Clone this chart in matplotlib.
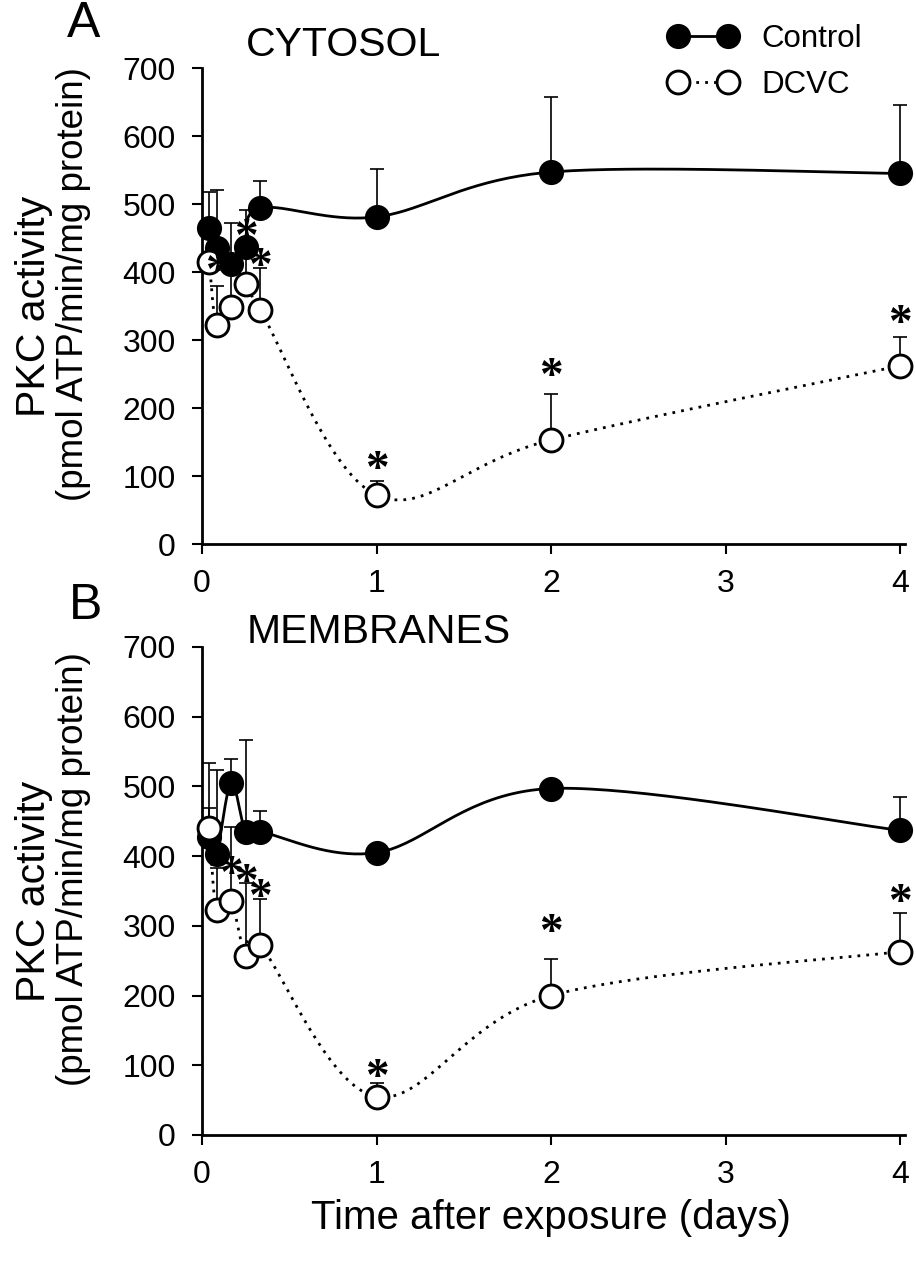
import numpy as np
import matplotlib
matplotlib.use("Agg")
import matplotlib.pyplot as plt
from matplotlib.lines import Line2D

plt.rcParams['font.family'] = ['Liberation Sans', 'DejaVu Sans']

# ---------------- data ----------------
times = [1/24, 2/24, 4/24, 6/24, 8/24, 1, 2, 4]
xticks = [0, 1, 2, 3, 4]
yticks = [0, 100, 200, 300, 400, 500, 600, 700]

# Panel A - cytosol
cyt_control = [465, 435, 412, 437, 494, 481, 547, 545]
cyt_control_err = [52, 85, 60, 54, 40, 71, 110, 100]
cyt_dcvc = [415, 322, 349, 383, 344, 72, 153, 262]
cyt_dcvc_err = [35, 58, 60, 47, 62, 20, 67, 42]
cyt_star_x = [2/24, 6/24, 8/24, 1, 2, 4]
cyt_star_y = [415, 465, 422, 124, 260, 339]

# Panel B - membranes
mem_control = [428, 403, 505, 435, 435, 405, 497, 437]
mem_control_err = [41, 120, 34, 131, 30, 8, 6, 48]
mem_dcvc = [441, 323, 335, 257, 272, 55, 200, 263]
mem_dcvc_err = [93, 60, 107, 105, 67, 19, 53, 55]
mem_star_x = [4/24, 6/24, 8/24, 1, 2, 4]
mem_star_y = [387, 376, 354, 96, 304, 347]


def smooth(x, y, n=40):
    P = np.column_stack([x, y]).astype(float)
    out = []
    m = len(P)
    t = np.linspace(0, 1, n)[:, None]
    for i in range(m - 1):
        p0 = P[i - 1] if i > 0 else P[i]
        p1 = P[i]
        p2 = P[i + 1]
        p3 = P[i + 2] if i + 2 < m else P[i + 1]
        b1 = p1 + (p2 - p0) / 6.0
        b2 = p2 - (p3 - p1) / 6.0
        seg = ((1 - t) ** 3) * p1 + 3 * ((1 - t) ** 2) * t * b1 + 3 * (1 - t) * t ** 2 * b2 + t ** 3 * p2
        out.append(seg if i == 0 else seg[1:])
    s = np.vstack(out)
    return s[:, 0], s[:, 1]


W, H = 916, 1266
fig = plt.figure(figsize=(W / 100, H / 100), dpi=100)

xmax = 4.03
pxu = 174.5


def make_ax(y0, y700):
    left = 202 / W
    width = xmax * pxu / W
    bottom = 1 - y0 / H
    height = (y0 - y700) / H
    return fig.add_axes([left, bottom, width, height])


axA = make_ax(544, 68)
axB = make_ax(1135, 647)

MS = 16.5
MEW = 1.6


def draw(ax, ctrl, ctrl_err, dcvc, dcvc_err, star_x, star_y, title, title_y):
    # error bars (upward only)
    for vals, errs in [(ctrl, ctrl_err), (dcvc, dcvc_err)]:
        eb = ax.errorbar(times, vals, yerr=[np.zeros(len(vals)), errs], fmt='none',
                         ecolor='black', elinewidth=1.2, capsize=5, capthick=1.2, zorder=2)
        for art in eb.get_children():
            art.set_clip_on(False)
    sx, sy = smooth(times, ctrl)
    ax.plot(sx, sy, color='black', lw=2.0, zorder=3, clip_on=False)
    ax.plot(times, ctrl, ls='none', marker='o', ms=MS, mfc='black', mec='black',
            mew=MEW, zorder=4, clip_on=False)
    sx, sy = smooth(times, dcvc)
    ax.plot(sx, sy, color='black', lw=2.0, ls=(0, (1, 2.2)), zorder=5, clip_on=False)
    ax.plot(times, dcvc, ls='none', marker='o', ms=MS, mfc='white', mec='black',
            mew=MEW * 1.3, zorder=6, clip_on=False)
    for x, y in zip(star_x, star_y):
        ax.annotate('*', xy=(x, y), xytext=(0, -8), textcoords='offset points',
                    ha='center', va='center', fontsize=34,
                    family='Liberation Serif', fontweight='bold', zorder=7)
    ax.set_xlim(0, xmax)
    ax.set_ylim(0, 700)
    ax.set_xticks(xticks)
    ax.set_yticks(yticks)
    ax.tick_params(axis='both', direction='out', length=7, width=1.5,
                   labelsize=23, colors='black')
    ax.tick_params(axis='y', pad=12)
    ax.tick_params(axis='x', pad=11)
    for s in ['top', 'right']:
        ax.spines[s].set_visible(False)
    for s in ['left', 'bottom']:
        ax.spines[s].set_linewidth(2.0)
    ax.text(0.063, title_y, title, transform=ax.transAxes, fontsize=29.5,
            ha='left', va='center')


draw(axA, cyt_control, cyt_control_err, cyt_dcvc, cyt_dcvc_err, cyt_star_x, cyt_star_y,
     'CYTOSOL', (544 - 45) / 476)
draw(axB, mem_control, mem_control_err, mem_dcvc, mem_dcvc_err, mem_star_x, mem_star_y,
     'MEMBRANES', (1135 - 632) / 488)

# y labels
for yc in [(544 + 68) / 2, (1135 + 647) / 2]:
    fig.text(34 / W, 1 - yc / H, 'PKC activity', rotation=90, fontsize=29.5,
             ha='center', va='center')
    fig.text(74 / W, 1 - (yc - 22) / H, '(pmol ATP/min/mg protein)', rotation=90,
             fontsize=26.5, ha='center', va='center')

fig.text(84 / W, 1 - 24 / H, 'A', fontsize=36, ha='center', va='center')
fig.text(86 / W, 1 - 606 / H, 'B', fontsize=36, ha='center', va='center')

fig.text(551 / W, 1 - 1218 / H, 'Time after exposure (days)', fontsize=29,
         ha='center', va='center')

handles = [
    Line2D([], [], color='black', lw=2.0, marker='o', ms=MS, mfc='black', mec='black', mew=MEW),
    Line2D([], [], color='black', lw=2.0, ls=(0, (1, 2.2)), marker='o', ms=MS, mfc='white',
           mec='black', mew=MEW * 1.3),
]
axA.legend(handles, ['Control', 'DCVC'], loc='upper left',
           bbox_to_anchor=(669 / W, 1 - 24 / H), bbox_transform=fig.transFigure,
           frameon=False, fontsize=22.5, numpoints=2, handlelength=2.2,
           handletextpad=0.75, borderpad=0, borderaxespad=0, labelspacing=0.5)

fig.savefig('out.png', dpi=100)
